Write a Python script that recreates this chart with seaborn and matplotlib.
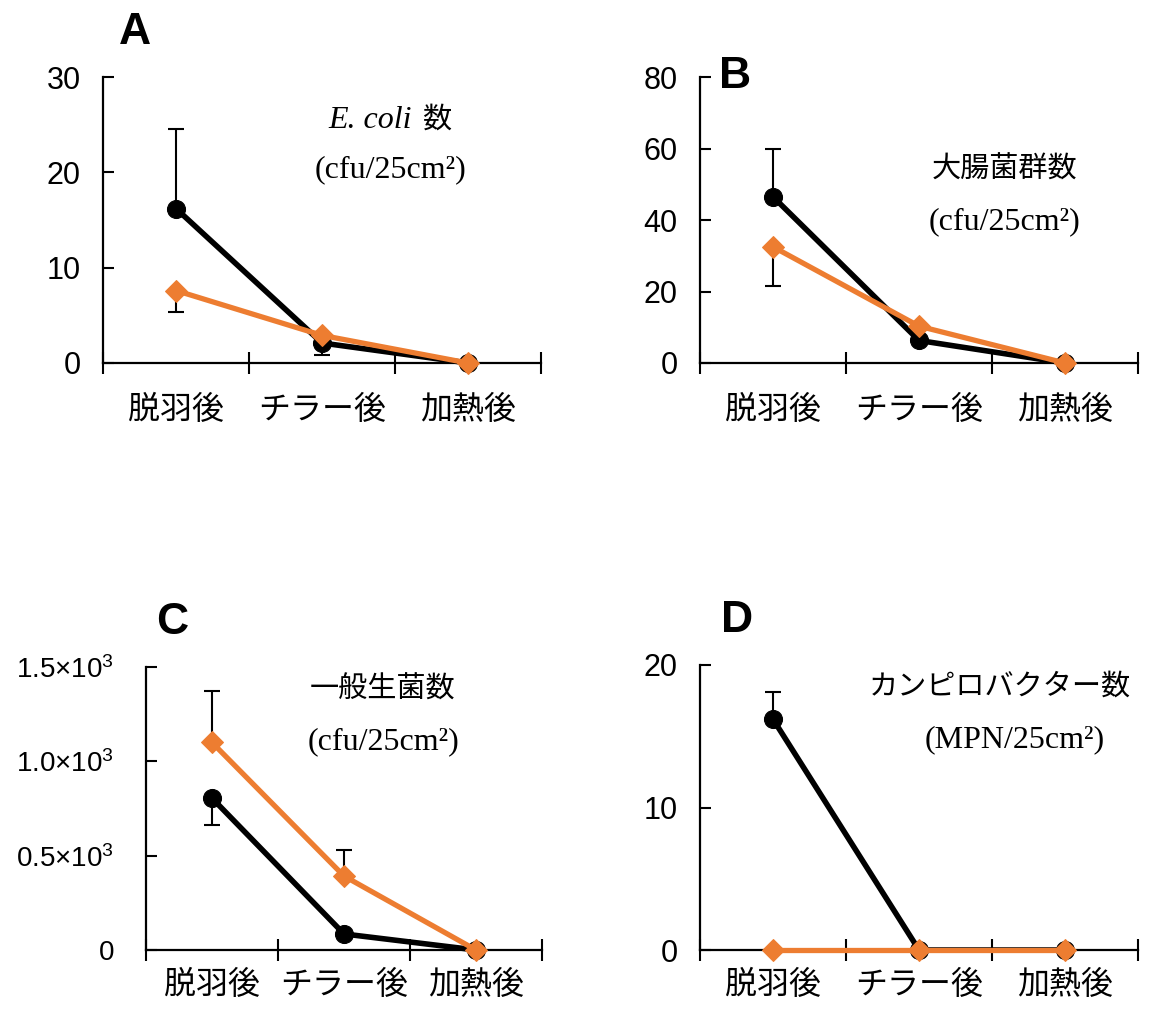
import numpy as np
import pandas as pd
import seaborn as sns
import matplotlib.pyplot as plt

sns.set_theme(style="ticks")
plt.rcParams['font.family'] = ['Liberation Sans', 'Noto Sans CJK JP']
plt.rcParams['text.color'] = 'black'
plt.rcParams['xtick.color'] = 'black'
plt.rcParams['ytick.color'] = 'black'
plt.rcParams['mathtext.fontset'] = 'custom'
plt.rcParams['mathtext.rm'] = 'Liberation Sans'
plt.rcParams['mathtext.it'] = 'Liberation Sans:italic'
plt.rcParams['mathtext.bf'] = 'Liberation Sans:bold'

cats = ['脱羽後', 'チラー後', '加熱後']

# panel A: E. coli
a_black = [16.2, 2.1, 0]
a_black_lo = [0, 1.3, 0]
a_black_hi = [8.3, 0, 0]
a_orange = [7.6, 2.9, 0]
a_orange_lo = [2.3, 0, 0]
a_orange_hi = [0, 0, 0]

# panel B: coliforms
b_black = [46.5, 6.3, 0]
b_black_lo = [0, 0, 0]
b_black_hi = [13.5, 0, 0]
b_orange = [32.5, 10.3, 0]
b_orange_lo = [11, 0, 0]
b_orange_hi = [0, 0, 0]

# panel C: total viable count
c_black = [805, 85, 0]
c_black_lo = [145, 0, 0]
c_black_hi = [0, 0, 0]
c_orange = [1100, 392, 0]
c_orange_lo = [0, 0, 0]
c_orange_hi = [275, 140, 0]

# panel D: campylobacter
d_black = [16.2, 0, 0]
d_black_lo = [0, 0, 0]
d_black_hi = [1.9, 0, 0]
d_orange = [0, 0, 0]
d_orange_lo = [0, 0, 0]
d_orange_hi = [0, 0, 0]

a_ticks = [0, 10, 20, 30]
b_ticks = [0, 20, 40, 60, 80]
c_ticks = [0, 500, 1000, 1500]
c_ticklabels = ['0', r'0.5$\times$10$^3$', r'1.0$\times$10$^3$', r'1.5$\times$10$^3$']
d_ticks = [0, 10, 20]

ORANGE = '#ED7D31'
W, H = 1157, 1010
fig = plt.figure(figsize=(W / 100, H / 100), dpi=100)

panels = [
    # axes box in px: left, top, right, bottom
    dict(box=(103, 77, 541, 363), black=(a_black, a_black_lo, a_black_hi),
         orange=(a_orange, a_orange_lo, a_orange_hi), ticks=a_ticks, labels=None,
         tfs=22, ypad=16, xpad=22),
    dict(box=(700, 77, 1138, 363), black=(b_black, b_black_lo, b_black_hi),
         orange=(b_orange, b_orange_lo, b_orange_hi), ticks=b_ticks, labels=None,
         tfs=22, ypad=16, xpad=22),
    dict(box=(146, 667, 542, 950), black=(c_black, c_black_lo, c_black_hi),
         orange=(c_orange, c_orange_lo, c_orange_hi), ticks=c_ticks, labels=c_ticklabels,
         tfs=20, ypad=23, xpad=14),
    dict(box=(700, 665, 1138, 950), black=(d_black, d_black_lo, d_black_hi),
         orange=(d_orange, d_orange_lo, d_orange_hi), ticks=d_ticks, labels=None,
         tfs=22, ypad=16, xpad=14),
]

for p in panels:
    x0, y0, x1, y1 = p['box']
    ax = fig.add_axes([x0 / W, 1 - y1 / H, (x1 - x0) / W, (y1 - y0) / H])
    bv, blo, bhi = p['black']
    ov, olo, ohi = p['orange']
    df = pd.DataFrame({'stage': cats * 2,
                       'value': list(bv) + list(ov),
                       'group': ['black'] * 3 + ['orange'] * 3})
    xpos = np.arange(len(cats))
    ax.errorbar(xpos, bv, yerr=[blo, bhi], fmt='none', ecolor='black',
                elinewidth=1.5, capsize=6, capthick=1.5, zorder=2, clip_on=False)
    ax.errorbar(xpos, ov, yerr=[olo, ohi], fmt='none', ecolor='black',
                elinewidth=1.5, capsize=6, capthick=1.5, zorder=2, clip_on=False)
    sns.lineplot(data=df[df.group == 'black'], x='stage', y='value', ax=ax,
                 color='black', linewidth=4, marker='o', markersize=13,
                 markeredgecolor='black', zorder=3, clip_on=False)
    sns.lineplot(data=df[df.group == 'orange'], x='stage', y='value', ax=ax,
                 color=ORANGE, linewidth=3.8, marker='D', markersize=11,
                 markeredgecolor=ORANGE, zorder=4, clip_on=False)
    ax.set_xlim(-0.5, 2.5)
    ax.set_ylim(p['ticks'][0], p['ticks'][-1])
    ax.set_xlabel('')
    ax.set_ylabel('')
    ax.set_yticks(p['ticks'])
    if p['labels'] is not None:
        ax.set_yticklabels(p['labels'])
    ax.set_xticks([-0.5, 0.5, 1.5, 2.5])
    ax.set_xticklabels([])
    ax.set_xticks(xpos, minor=True)
    ax.set_xticklabels(cats, minor=True, fontsize=23, family=['Noto Sans CJK JP'])
    ax.tick_params(axis='x', which='major', direction='inout', length=16, width=1.5)
    ax.tick_params(axis='x', which='minor', length=0, pad=p['xpad'])
    ax.tick_params(axis='y', direction='in', length=8, width=1.5,
                   labelsize=p['tfs'], pad=p['ypad'])
    for s in ['top', 'right']:
        ax.spines[s].set_visible(False)
    for s in ['left', 'bottom']:
        ax.spines[s].set_color('black')
        ax.spines[s].set_linewidth(1.6)
    ax.set_facecolor('none')

# panel letters
for letter, (x, y) in zip('ABCD', [(135, 32), (735, 77), (172, 622), (737, 620)]):
    fig.text(x / W, 1 - y / H, letter, ha='center', va='center',
             fontsize=32, fontweight='bold', family=['Liberation Sans'])

serif = ['Liberation Serif', 'Noto Sans CJK JP']
fs = 23
fig.text(412 / W, 1 - 120 / H, 'E. coli', ha='right', va='center', fontsize=fs,
         style='italic', family=serif)
fig.text(422 / W, 1 - 120 / H, '数', ha='left', va='center', fontsize=fs - 2, family=serif)
fig.text(390 / W, 1 - 170 / H, '(cfu/25cm²)', ha='center', va='center', fontsize=fs, family=serif)
fig.text(1005 / W, 1 - 170 / H, '大腸菌群数', ha='center', va='center', fontsize=fs - 2, family=serif)
fig.text(1005 / W, 1 - 222 / H, '(cfu/25cm²)', ha='center', va='center', fontsize=fs, family=serif)
fig.text(383 / W, 1 - 690 / H, '一般生菌数', ha='center', va='center', fontsize=fs - 2, family=serif)
fig.text(383 / W, 1 - 742 / H, '(cfu/25cm²)', ha='center', va='center', fontsize=fs, family=serif)
fig.text(1000 / W, 1 - 687 / H, 'カンピロバクター数', ha='center', va='center', fontsize=fs - 2, family=serif)
fig.text(1015 / W, 1 - 740 / H, '(MPN/25cm²)', ha='center', va='center', fontsize=fs, family=serif)

fig.savefig('out.png', dpi=100, facecolor='white')
